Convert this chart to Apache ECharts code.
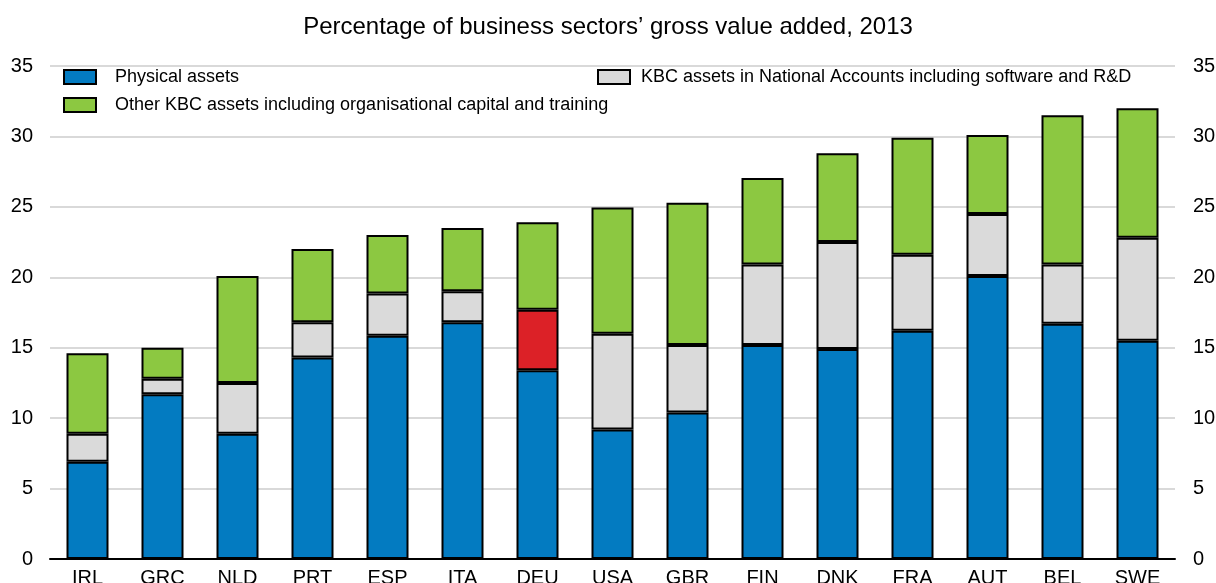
<!DOCTYPE html>
<html>
<head>
<meta charset="utf-8">
<script src="https://cdn.jsdelivr.net/npm/echarts@6/dist/echarts.min.js"></script>
<style>
  html, body { margin: 0; padding: 0; background: #fff; }
  #main { width: 1216px; height: 583px; }
</style>
</head>
<body>
<div id="main"></div>
<script>
// countries, sorted by total
var categories = ['IRL', 'GRC', 'NLD', 'PRT', 'ESP', 'ITA', 'DEU', 'USA', 'GBR', 'FIN', 'DNK', 'FRA', 'AUT', 'BEL', 'SWE']

var physicalAssets = [6.9, 11.7, 8.9, 14.3, 15.85, 16.8, 13.4, 9.2, 10.4, 15.2, 14.9, 16.2, 20.1, 16.7, 15.5]
var kbcNationalAccounts = [2.0, 1.1, 3.6, 2.5, 3.0, 2.2, 4.3, 6.8, 4.8, 5.7, 7.6, 5.4, 4.4, 4.2, 7.3]
var otherKbc = [5.7, 2.2, 7.6, 5.2, 4.15, 4.5, 6.2, 8.95, 10.1, 6.15, 6.3, 8.3, 5.6, 10.6, 9.2]

var yTicks = [0, 5, 10, 15, 20, 25, 30, 35]
var highlight = 'DEU'

var chartDom = document.getElementById('main')
var myChart = echarts.init(chartDom)

var font = "'Liberation Sans Narrow', 'Arial Narrow', 'Liberation Sans', Arial, sans-serif"
var BLUE = '#037bc1'
var GREY = '#dadada'
var GREEN = '#8cc841'
var RED = '#dc2127'

var barBorder = { borderColor: '#000', borderWidth: 2 }

function valueAxis(pos) {
  return {
    type: 'value',
    position: pos,
    min: yTicks[0],
    max: yTicks[yTicks.length - 1],
    interval: 5,
    axisLine: { show: false },
    axisTick: { show: false },
    axisLabel: {
      color: '#000',
      fontFamily: font,
      fontSize: 20,
      margin: pos === 'left' ? 17 : 18,
      align: pos === 'left' ? 'right' : 'left'
    },
    splitLine: { show: pos === 'left', lineStyle: { color: '#d9d9d9', width: 2 } }
  }
}

var legendText = { fontFamily: font, fontSize: 18, color: '#000' }

var option = {
  animation: false,
  title: {
    text: 'Percentage of business sectors\u2019 gross value added, 2013',
    left: 'center',
    top: 10,
    textStyle: { fontFamily: "'Liberation Sans', Arial, sans-serif", fontWeight: 'normal', fontSize: 24, color: '#000' }
  },
  legend: [
    {
      data: ['Physical assets', 'Other KBC assets including organisational capital and training'],
      orient: 'vertical',
      left: 58,
      top: 63,
      icon: 'rect',
      itemWidth: 32,
      itemHeight: 14,
      itemGap: 10,
      itemStyle: { borderColor: '#000', borderWidth: 2 },
      textStyle: Object.assign({ padding: [0, 0, 0, 14] }, legendText)
    },
    {
      data: ['KBC assets in National Accounts including software and R&D'],
      left: 592,
      top: 63,
      icon: 'rect',
      itemWidth: 32,
      itemHeight: 14,
      itemStyle: { borderColor: '#000', borderWidth: 2 },
      textStyle: Object.assign({ padding: [0, 0, 0, 6] }, legendText)
    }
  ],
  grid: { left: 50, right: 41, top: 66, bottom: 24, containLabel: false, outerBoundsMode: 'none' },
  xAxis: {
    type: 'category',
    data: categories,
    axisLine: { lineStyle: { color: '#000', width: 2 } },
    axisTick: { show: false },
    axisLabel: { color: '#000', fontFamily: font, fontSize: 20, margin: 9 }
  },
  yAxis: [valueAxis('left'), valueAxis('right')],
  series: [
    {
      name: 'Physical assets',
      type: 'bar',
      stack: 'total',
      barWidth: 42,
      itemStyle: Object.assign({ color: BLUE }, barBorder),
      data: physicalAssets
    },
    {
      name: 'KBC assets in National Accounts including software and R&D',
      type: 'bar',
      stack: 'total',
      barWidth: 42,
      itemStyle: Object.assign({ color: GREY }, barBorder),
      data: kbcNationalAccounts.map(function (v, i) {
        if (categories[i] === highlight) {
          return { value: v, itemStyle: { color: RED } }
        }
        return v
      })
    },
    {
      name: 'Other KBC assets including organisational capital and training',
      type: 'bar',
      stack: 'total',
      barWidth: 42,
      itemStyle: Object.assign({ color: GREEN }, barBorder),
      data: otherKbc
    }
  ]
}

option && myChart.setOption(option)
</script>
</body>
</html>
